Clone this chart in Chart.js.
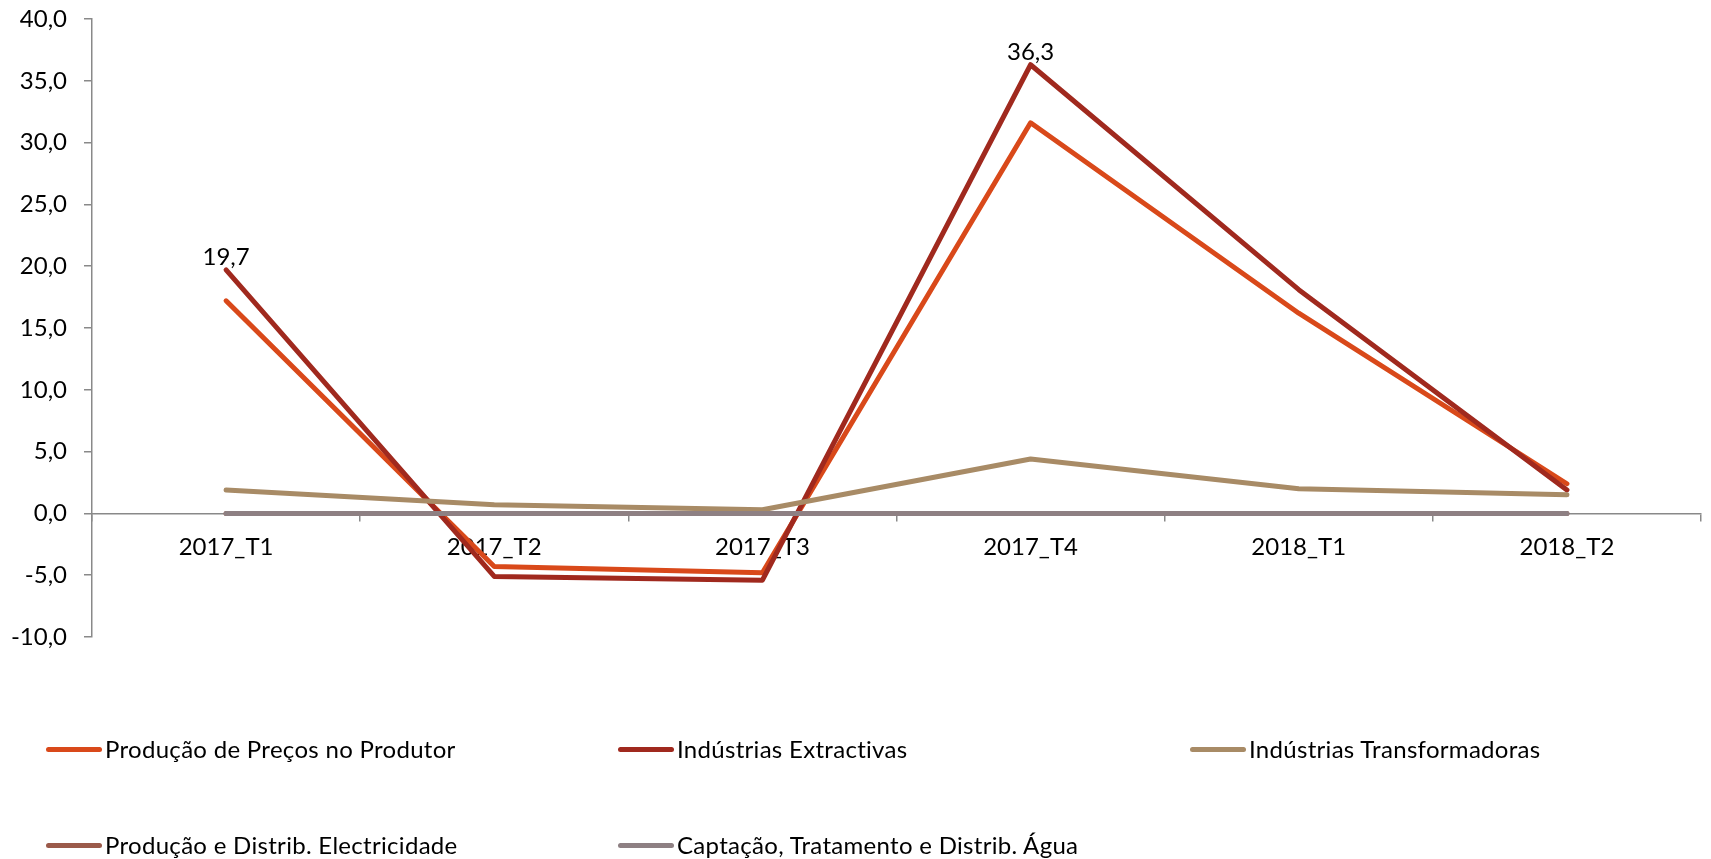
<!DOCTYPE html>
<html>
<head>
<meta charset="utf-8">
<script src="https://cdn.jsdelivr.net/npm/chart.js@4/dist/chart.umd.min.js"></script>
<style>
    html, body { margin: 0; padding: 0; background: #fff; }
    #wrap { position: relative; width: 1711px; height: 859px; }
    #chart { position: absolute; left: 0; top: 0; }
    .leg { position: absolute; font-family: Lato, sans-serif; font-size: 24px; letter-spacing: 0.3px; color: #000; white-space: nowrap; line-height: 28px; }
    .leg span.sw { position: absolute; left: 0; top: 11.5px; width: 56px; height: 5px; border-radius: 3px; }
    .leg span.tx { position: absolute; left: 59px; top: 0; }
</style>
</head>
<body>
<div id="wrap">
    <canvas id="chart" width="1711" height="859"></canvas>
    <div id="legend"></div>
</div>
<script>
    var categories = ['2017_T1', '2017_T2', '2017_T3', '2017_T4', '2018_T1', '2018_T2'];

    var precosProdutor = [17.2, -4.3, -4.8, 31.6, 16.2, 2.4];
    var extractivas = [19.7, -5.1, -5.4, 36.3, 18.1, 1.9];
    var transformadoras = [1.9, 0.7, 0.3, 4.4, 2.0, 1.5];
    var electricidade = [0, 0, 0, 0, 0, 0];
    var agua = [0, 0, 0, 0, 0, 0];

    var seriesNames = [
        'Produção de Preços no Produtor',
        'Indústrias Extractivas',
        'Indústrias Transformadoras',
        'Produção e Distrib. Electricidade',
        'Captação, Tratamento e Distrib. Água'
    ];
    var seriesColors = ['#D9491A', '#A0291E', '#A88B66', '#9B5A4A', '#8E8083'];

    /* only these points of Indústrias Extractivas carry a value label */
    var labelledPoints = [0, 3];

    var yMin = -10, yMax = 40, yStep = 5;

    function fmt(v) {
        return v.toFixed(1).replace('.', ',');
    }

    var allSeries = [precosProdutor, extractivas, transformadoras, electricidade, agua];
    var datasets = allSeries.map(function(values, i) {
        return {
            label: seriesNames[i],
            data: values,
            borderColor: seriesColors[i],
            backgroundColor: seriesColors[i],
            borderWidth: 5,
            borderCapStyle: 'round',
            borderJoinStyle: 'round',
            pointRadius: 0,
            fill: false,
            tension: 0,
            order: 5 - i
        };
    });

    var valueLabels = {
        id: 'valueLabels',
        afterDatasetsDraw: function(chart) {
            var ctx = chart.ctx;
            var meta = chart.getDatasetMeta(1);
            ctx.save();
            ctx.font = '24px Lato, sans-serif';
            ctx.fillStyle = '#000';
            ctx.textAlign = 'center';
            ctx.textBaseline = 'alphabetic';
            labelledPoints.forEach(function(idx) {
                var pt = meta.data[idx];
                ctx.fillText(fmt(extractivas[idx]), pt.x, pt.y - 5);
            });
            ctx.restore();
        }
    };

    var axisGray = '#898989';

    new Chart(document.getElementById('chart'), {
        type: 'line',
        data: {
            labels: categories,
            datasets: datasets
        },
        options: {
            responsive: false,
            animation: false,
            layout: {
                padding: { left: 0, right: 10, top: 19, bottom: 222 }
            },
            plugins: {
                legend: { display: false },
                tooltip: { enabled: false }
            },
            scales: {
                x: {
                    position: { y: 0 },
                    offset: true,
                    grid: {
                        offset: true,
                        drawOnChartArea: false,
                        drawTicks: true,
                        tickLength: 7,
                        color: axisGray,
                        lineWidth: 1.5
                    },
                    border: { display: true, color: axisGray, width: 1.5 },
                    ticks: {
                        color: '#000',
                        padding: 12,
                        maxRotation: 0,
                        font: { family: 'Lato, sans-serif', size: 24 }
                    },
                    afterFit: function(scale) {
                        scale.height = 0;
                        scale.paddingLeft = 0;
                        scale.paddingRight = 0;
                    }
                },
                y: {
                    min: yMin,
                    max: yMax,
                    grid: {
                        drawOnChartArea: false,
                        drawTicks: true,
                        tickLength: 8,
                        color: axisGray,
                        lineWidth: 1.5
                    },
                    border: { display: true, color: axisGray, width: 1.5 },
                    ticks: {
                        stepSize: yStep,
                        color: '#000',
                        padding: 17,
                        font: { family: 'Lato, sans-serif', size: 24 },
                        callback: function(v) { return fmt(v); }
                    },
                    afterFit: function(scale) {
                        scale.width = 92;
                        scale.paddingTop = 0;
                        scale.paddingBottom = 0;
                    }
                }
            }
        },
        plugins: [valueLabels]
    });

    /* legend: 3 columns, 2 rows like the original */
    var legend = document.getElementById('legend');
    var colX = [46, 618, 1190];
    var rowY = [735, 831];
    seriesNames.forEach(function(name, i) {
        var d = document.createElement('div');
        d.className = 'leg';
        d.style.left = colX[i % 3] + 'px';
        d.style.top = rowY[Math.floor(i / 3)] + 'px';
        d.innerHTML = '<span class="sw" style="background:' + seriesColors[i] + '"></span><span class="tx">' + name + '</span>';
        legend.appendChild(d);
    });
</script>
</body>
</html>
